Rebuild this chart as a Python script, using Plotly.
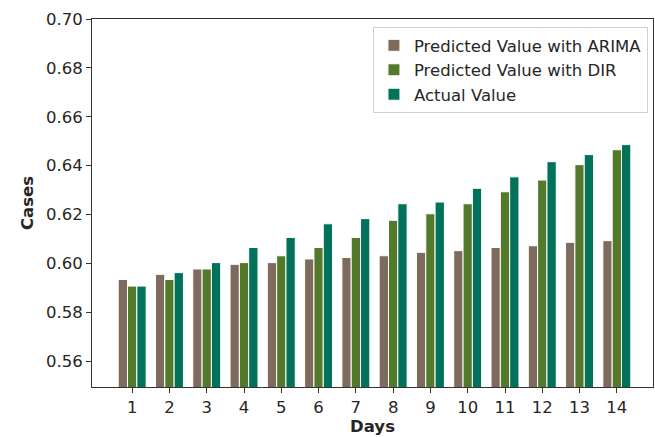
import plotly.graph_objects as go

days = list(range(1, 15))
day_labels = [str(d) for d in days]
arima = [0.5934, 0.5955, 0.5977, 0.5996, 0.6003, 0.6018, 0.6024, 0.6031, 0.6045, 0.6052, 0.6065, 0.6072, 0.6086, 0.6093]
dir_vals = [0.5907, 0.5934, 0.5977, 0.6003, 0.6031, 0.6065, 0.6106, 0.6176, 0.6203, 0.6244, 0.6293, 0.6341, 0.6404, 0.6465]
actual = [0.5907, 0.5962, 0.6003, 0.6065, 0.6106, 0.6162, 0.6183, 0.6244, 0.6251, 0.6307, 0.6354, 0.6416, 0.6445, 0.6486]
y_ticks = [0.56, 0.58, 0.60, 0.62, 0.64, 0.66, 0.68, 0.70]

series = [
    ("Predicted Value with ARIMA", arima, "#7f6b5d"),
    ("Predicted Value with DIR", dir_vals, "#537a2b"),
    ("Actual Value", actual, "#02735a"),
]

fig = go.Figure()
for name, vals, color in series:
    fig.add_trace(go.Bar(
        x=days, y=vals, name=name,
        marker=dict(color=color, line=dict(color="white", width=1)),
    ))

FS = 16.5
txt = "#262626"
fig.update_layout(
    width=655, height=437,
    margin=dict(l=92, r=2, t=19, b=50, autoexpand=False),
    plot_bgcolor="white", paper_bgcolor="white",
    barmode="group", bargap=0.25, bargroupgap=0,
    font=dict(family="DejaVu Sans", size=FS, color=txt),
    showlegend=True,
    legend=dict(
        x=0.991, y=0.978, xanchor="right", yanchor="top",
        bordercolor="#d0d0d0", borderwidth=1, bgcolor="white",
        font=dict(family="DejaVu Sans", size=FS, color=txt),
        tracegroupgap=0, itemwidth=30,
    ),
    xaxis=dict(
        range=[-0.078, 14.97], tickmode="array", tickvals=days, ticktext=day_labels,
        showline=True, linecolor="#333333", linewidth=1, mirror=True, automargin=False,
        ticks="outside", ticklen=5, tickcolor="#333333", showgrid=False, zeroline=False,
        title=dict(text="<b>Days</b>", font=dict(family="DejaVu Sans", size=FS, color=txt), standoff=4),
    ),
    yaxis=dict(
        range=[0.5494, 0.70], tickmode="array", tickvals=y_ticks,
        ticktext=[f"{v:.2f}" for v in y_ticks], automargin=False,
        showline=True, linecolor="#333333", linewidth=1, mirror=True,
        ticks="outside", ticklen=5, tickcolor="#333333", showgrid=False, zeroline=False,
        title=dict(text="<b>Cases</b>", font=dict(family="DejaVu Sans", size=FS, color=txt), standoff=8),
    ),
)

fig.write_html(
    "out.html",
    config={"displayModeBar": False},
    post_script="document.body.style.margin='0';document.body.style.overflow='hidden';",
)
